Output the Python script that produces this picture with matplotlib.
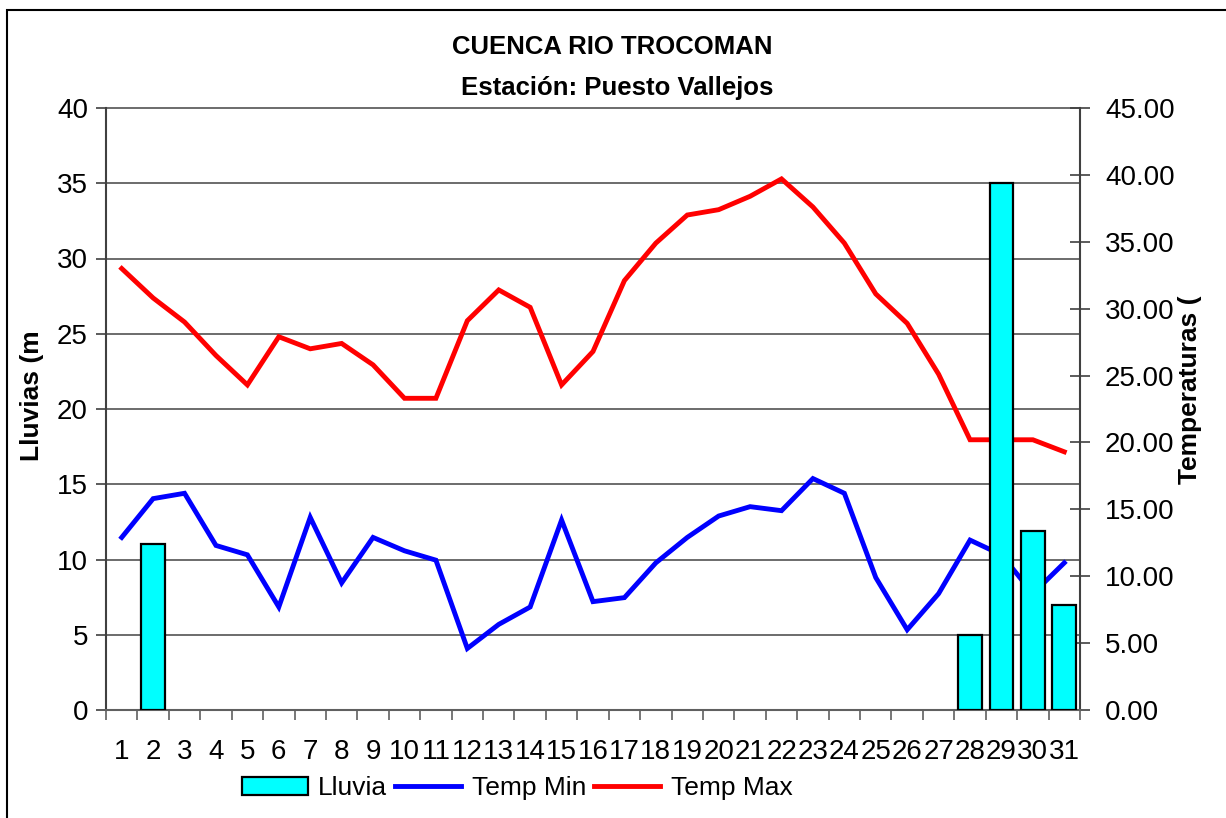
import matplotlib
matplotlib.use("Agg")
import matplotlib.pyplot as plt
from matplotlib.patches import Rectangle
from matplotlib.lines import Line2D
from matplotlib.transforms import blended_transform_factory

days = list(range(1, 32))
rain = [0, 11, 0, 0, 0, 0, 0, 0, 0, 0, 0, 0, 0, 0, 0, 0, 0, 0, 0, 0,
        0, 0, 0, 0, 0, 0, 0, 5, 35, 11.9, 7]
tmin = [12.9, 15.8, 16.2, 12.3, 11.6, 7.7, 14.4, 9.5, 12.9, 11.9, 11.2,
        4.6, 6.4, 7.7, 14.2, 8.1, 8.4, 11.0, 12.9, 14.5, 15.2, 14.9,
        17.3, 16.2, 9.9, 6.0, 8.7, 12.7, 11.6, 8.7, 11.0]
tmax = [33.0, 30.8, 29.0, 26.5, 24.3, 27.9, 27.0, 27.4, 25.8, 23.3, 23.3,
        29.1, 31.4, 30.1, 24.3, 26.8, 32.1, 34.9, 37.0, 37.4, 38.4, 39.7,
        37.6, 34.9, 31.1, 28.9, 25.1, 20.2, 20.2, 20.2, 19.3]
rain_ticks = [0, 5, 10, 15, 20, 25, 30, 35, 40]
temp_ticks = [0, 5, 10, 15, 20, 25, 30, 35, 40, 45]

plt.rcParams['font.family'] = ['Liberation Sans', 'DejaVu Sans']

W, H = 1226, 818
fig = plt.figure(figsize=(W / 100, H / 100), dpi=100)

# outer chart border (left and top visible)
fig.patches.append(Rectangle((7 / W, -0.5), 2.0, 1 - 10 / H + 0.5,
                             transform=fig.transFigure, fill=False,
                             edgecolor='black', lw=1.5))

rect = [106 / W, 1 - 710 / H, (1080 - 106) / W, (710 - 108) / H]
ax_r = fig.add_axes(rect)
ax_t = ax_r.twinx()
ax_r.set_zorder(2)
ax_t.set_zorder(1)
ax_r.patch.set_visible(False)
ax_t.patch.set_facecolor('white')

ax_r.set_xlim(0.5, 31.5)
ax_r.set_ylim(0, 40)
ax_t.set_ylim(0, 45)

# gridlines on rain scale, drawn below the temperature lines
gtrans = blended_transform_factory(ax_t.transAxes, ax_r.transData)
for v in rain_ticks[1:]:
    ax_t.plot([0, 1], [v, v], transform=gtrans, color='#444444', lw=1.1,
              zorder=0.5, clip_on=False)

ax_t.plot(days, tmin, color='#0000FF', lw=3.5, zorder=2,
          solid_joinstyle='miter')
ax_t.plot(days, tmax, color='#FF0000', lw=3.5, zorder=2,
          solid_joinstyle='miter')

bar_days = [d for d, r in zip(days, rain) if r > 0]
bar_vals = [r for r in rain if r > 0]
ax_r.bar(bar_days, bar_vals, width=0.76, color='#00FFFF', edgecolor='black',
         lw=1.6, zorder=3)

# axes styling
ax_r.spines['top'].set_visible(False)
ax_t.spines['top'].set_visible(False)
ax_t.spines['left'].set_visible(False)
ax_t.spines['bottom'].set_visible(False)
ax_r.spines['right'].set_visible(False)
ax_r.spines['left'].set_color('#404040')
ax_r.spines['left'].set_linewidth(1.5)
ax_r.spines['bottom'].set_color('#606060')
ax_r.spines['bottom'].set_linewidth(1.5)
ax_t.spines['right'].set_color('#404040')
ax_t.spines['right'].set_linewidth(1.5)

ax_r.set_yticks(rain_ticks)
ax_r.set_yticklabels([str(v) for v in rain_ticks], fontsize=20)
ax_r.tick_params(axis='y', direction='out', length=7, width=1.2,
                 color='#404040', pad=6)

ax_t.set_yticks(temp_ticks)
ax_t.set_yticklabels([f"{v:.2f}" for v in temp_ticks], fontsize=20)
ax_t.tick_params(axis='y', direction='inout', length=14, width=1.2,
                 color='#404040', pad=11)

ax_r.set_xticks(days)
ax_r.set_xticklabels([str(d) for d in days], fontsize=20)
ax_r.tick_params(axis='x', which='major', length=0, pad=21)
ax_r.set_xticks([d + 0.5 for d in [0] + days], minor=True)
ax_r.tick_params(axis='x', which='minor', direction='out', length=7,
                 width=1.2, color='#606060')

fig.text(32 / W, 1 - 396 / H, 'Lluvias (m', rotation=90, fontsize=19,
         fontweight='bold', ha='center', va='center')
fig.text(1190 / W, 1 - 390 / H, 'Temperaturas (', rotation=90, fontsize=19,
         fontweight='bold', ha='center', va='center')

fig.text(612 / W, 1 - 47 / H, 'CUENCA RIO TROCOMAN', fontsize=18.5,
         fontweight='bold', ha='center', va='center')
fig.text(617 / W, 1 - 88 / H, 'Estación: Puesto Vallejos', fontsize=18.5,
         fontweight='bold', ha='center', va='center')

h_bar = Rectangle((0, 0), 1, 1, facecolor='#00FFFF', edgecolor='black', lw=1.6)
h_min = Line2D([], [], color='#0000FF', lw=3.5)
h_max = Line2D([], [], color='#FF0000', lw=3.5)
fig.legend([h_bar, h_min, h_max], ['Lluvia', 'Temp Min', 'Temp Max'],
           loc='center', bbox_to_anchor=(517 / W, 1 - 788 / H), ncol=3,
           frameon=False, fontsize=19, handlelength=2.5, handleheight=0.7,
           handletextpad=0.4, columnspacing=0.3)

fig.savefig('out.png', dpi=100)
